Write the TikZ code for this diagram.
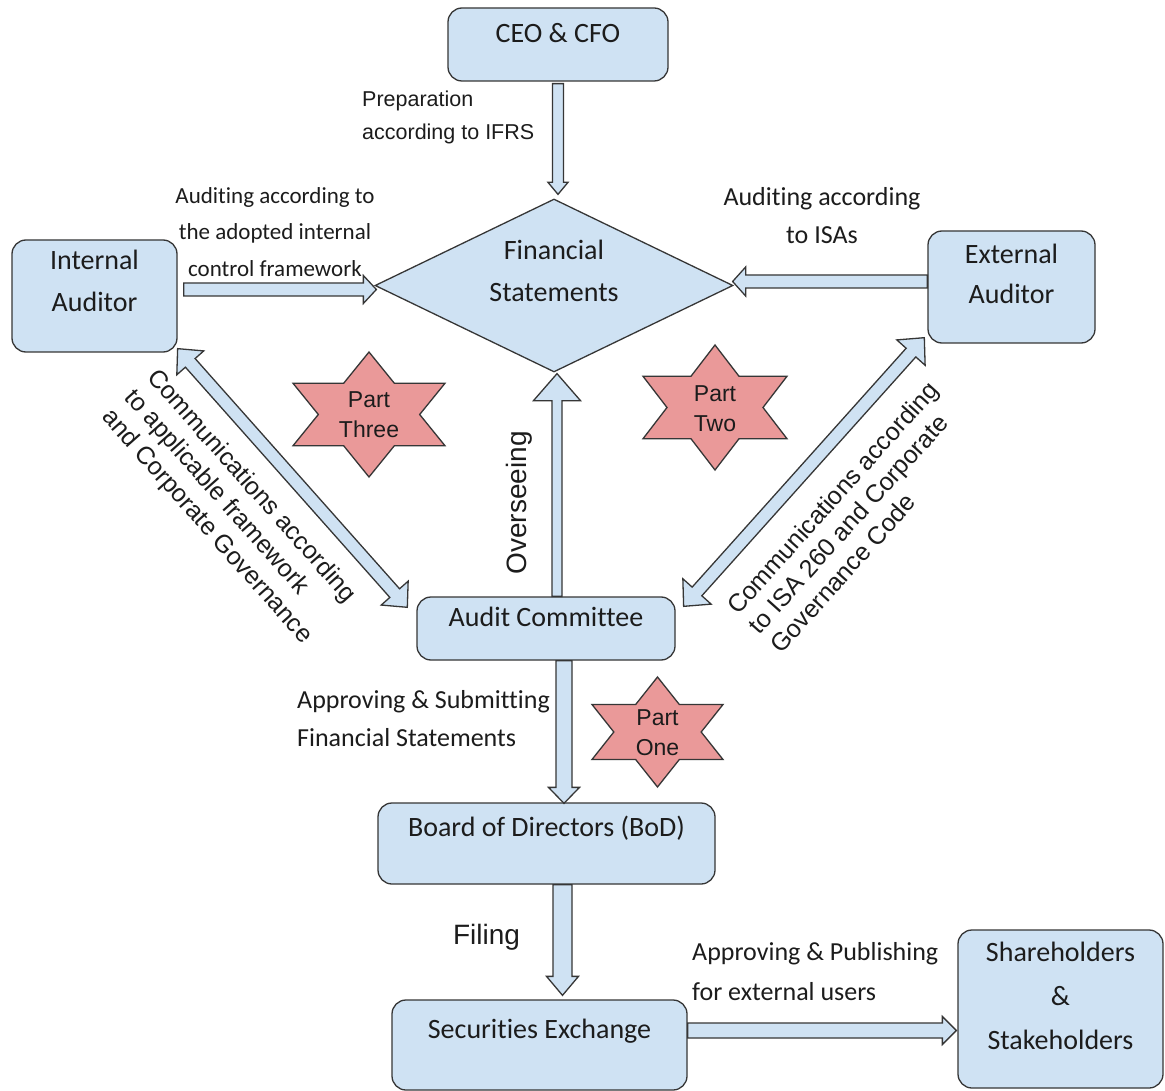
\documentclass[tikz,border=0pt]{standalone}
\usepackage{fontspec}
\setmainfont{Carlito}[Ligatures={NoCommon}]
\newfontfamily\arialf{Liberation Sans}
\usetikzlibrary{shapes.geometric,calc}
\definecolor{boxblue}{HTML}{CFE2F3}
\definecolor{starred}{HTML}{EA9999}
\definecolor{edge}{HTML}{363636}
\definecolor{ink}{HTML}{1C1C1C}

\tikzset{
  box/.style={draw=edge, fill=boxblue, line width=1.3pt, rounded corners=14pt, inner sep=0pt},
  fsbox/.style={diamond, draw=edge, fill=boxblue, line width=1.3pt, inner sep=0pt},
  boxtxt/.style={font=\fontsize{28}{42}\selectfont, text=ink, align=center, inner sep=0pt},
  arrowst/.style={fill=boxblue, draw=edge, line width=1.3pt, line join=miter},
  starst/.style={fill=starred, draw=edge, line width=1.3pt, line join=miter},
  startxt/.style={font=\arialf\fontsize{23}{30}\selectfont, text=ink, align=center, inner sep=0pt},
  lblc/.style={text=ink, inner sep=0pt},
}

\newcommand{\blockarrow}[5]{%
  \filldraw[arrowst] let \p1=(#1), \p2=(#2),
    \n1={atan2(\y2-\y1,\x2-\x1)}, \n2={veclen(\x2-\x1,\y2-\y1)} in
    [shift={(\p1)}, rotate=\n1]
    (0pt,-#3) -- ({\n2-#5},-#3) -- ({\n2-#5},-#4) -- (\n2,0pt) --
    ({\n2-#5},#4) -- ({\n2-#5},#3) -- (0pt,#3) -- cycle;}

\newcommand{\blockdarrow}[5]{%
  \filldraw[arrowst] let \p1=(#1), \p2=(#2),
    \n1={atan2(\y2-\y1,\x2-\x1)}, \n2={veclen(\x2-\x1,\y2-\y1)} in
    [shift={(\p1)}, rotate=\n1]
    (0pt,0pt) -- (#5,#4) -- (#5,#3) -- ({\n2-#5},#3) -- ({\n2-#5},#4) -- (\n2,0pt) --
    ({\n2-#5},-#4) -- ({\n2-#5},-#3) -- (#5,-#3) -- (#5,-#4) -- cycle;}

\newcommand{\hexstar}[4]{%
  \begin{scope}[shift={(#1,#2)}]
  \filldraw[starst] (0,-#4) -- ({#3/3},{-#4/2}) -- (#3,{-#4/2}) -- ({2*#3/3},0) --
    (#3,{#4/2}) -- ({#3/3},{#4/2}) -- (0,#4) -- ({-#3/3},{#4/2}) -- (-#3,{#4/2}) --
    ({-2*#3/3},0) -- (-#3,{-#4/2}) -- ({-#3/3},{-#4/2}) -- cycle;
  \end{scope}}

\begin{document}
\begin{tikzpicture}[x=1pt,y=-1pt]
\useasboundingbox (0,0) rectangle (1165,1091);
\fill[white] (0,0) rectangle (1165,1091);

% boxes
\node[box, minimum width=220pt, minimum height=73pt] (ceo) at (558,44.5) {};
\node[box, minimum width=165pt, minimum height=112pt] (ia) at (94.5,296) {};
\node[box, minimum width=167pt, minimum height=112pt] (ea) at (1011.5,287) {};
\node[fsbox, minimum width=358pt, minimum height=173pt] (fs) at (554,285.5) {};
\node[box, minimum width=258pt, minimum height=63pt] (ac) at (546,628.5) {};
\node[box, minimum width=337pt, minimum height=81pt] (bod) at (546.5,843.5) {};
\node[box, minimum width=295pt, minimum height=90pt] (se) at (539.5,1045) {};
\node[box, minimum width=205pt, minimum height=158pt] (sh) at (1060.5,1009) {};

% stars
\hexstar{369}{414.5}{76}{62.5}
\hexstar{715}{407.5}{72}{62.5}
\hexstar{657.5}{732}{65.5}{55}

% arrows
\blockarrow{$(ceo.south)+(0,2)$}{$(fs.north)+(4,-4)$}{5.5pt}{10pt}{12pt}
\blockarrow{$(ia.east)+(6,-6.5)$}{$(fs.west)+(2,4)$}{6.5pt}{14pt}{13pt}
\blockarrow{$(ea.west)+(0,-5.5)$}{$(fs.east)+(-1,-4)$}{6.5pt}{14.5pt}{13pt}
\blockarrow{$(ac.north)+(11,0)$}{$(fs.south)+(3,1)$}{5pt}{23.5pt}{27pt}
\blockarrow{$(ac.south)+(18,0)$}{$(bod.north)+(17.5,1)$}{8pt}{15.5pt}{16pt}
\blockarrow{$(bod.south)+(16,0)$}{$(se.north)+(23,-4)$}{9.5pt}{16pt}{19pt}
\blockarrow{$(se.east)+(0,-14.5)$}{$(sh.west)+(-1,21.5)$}{7.5pt}{14pt}{14pt}
\blockdarrow{$(ia.south east)+(0,-4)$}{$(ac.north west)+(-9,11)$}{6.5pt}{18pt}{19pt}
\blockdarrow{$(ac.north east)+(8,10)$}{$(ea.south west)+(-3,-6)$}{6.5pt}{19pt}{20pt}

% box texts
\node[boxtxt] (ceoT) at (558,33) {CEO \& CFO};
\node[boxtxt] (iaT) at (94.5,281) {Internal\\Auditor};
\node[boxtxt, font=\fontsize{28}{40}\selectfont] (eaT) at (1011.5,274) {External\\Auditor};
\node[boxtxt] (fsT) at (554,271) {Financial\\Statements};
\node[boxtxt] (acT) at (546,617) {Audit Committee};
\node[boxtxt] (bodT) at (546.5,828) {Board of Directors (BoD)};
\node[boxtxt] (seT) at (539.5,1031) {Securities Exchange};
\node[boxtxt, font=\fontsize{28}{44}\selectfont] (shT) at (1060.5,996) {Shareholders\\\&\\Stakeholders};

% star texts
\node[startxt] (p3) at (369,415) {Part\\Three};
\node[startxt] (p2) at (715,409) {Part\\Two};
\node[startxt] (p1) at (657.5,732.5) {Part\\One};

% labels
\node[lblc, font=\arialf\fontsize{21.5}{33}\selectfont, anchor=west, align=left] (prep) at (362,117.5) {Preparation\\according to IFRS};
\node[lblc, font=\fontsize{23}{36.5}\selectfont, align=center] (lint) at (275,232) {Auditing according to\\the adopted internal\\control framework};
\node[lblc, font=\fontsize{26}{38}\selectfont, align=center] (lisa) at (822,216) {Auditing according\\to ISAs};
\node[lblc, font=\fontsize{26}{38}\selectfont, anchor=west, align=left] (lsub) at (297,719) {Approving \& Submitting\\Financial Statements};
\node[lblc, font=\fontsize{26}{40}\selectfont, anchor=west, align=left] (lpub) at (692,972) {Approving \& Publishing\\for external users};
\node[lblc, font=\arialf\fontsize{28}{34}\selectfont] (lfil) at (486.5,937) {Filing};
\node[lblc, font=\arialf\fontsize{28}{34}\selectfont, rotate=90] (lovr) at (519,503) {Overseeing};
\node[lblc, font=\arialf\fontsize{25}{30}\selectfont, rotate=-48.4, align=left] (lcl) at (229,507) {Communications according\\to applicable framework\\and Corporate Governance};
\node[lblc, font=\arialf\fontsize{25}{29}\selectfont, rotate=48.1, align=left] (lcr) at (854,517) {Communications according\\to ISA 260 and Corporate\\Governance Code};
\end{tikzpicture}
\end{document}
